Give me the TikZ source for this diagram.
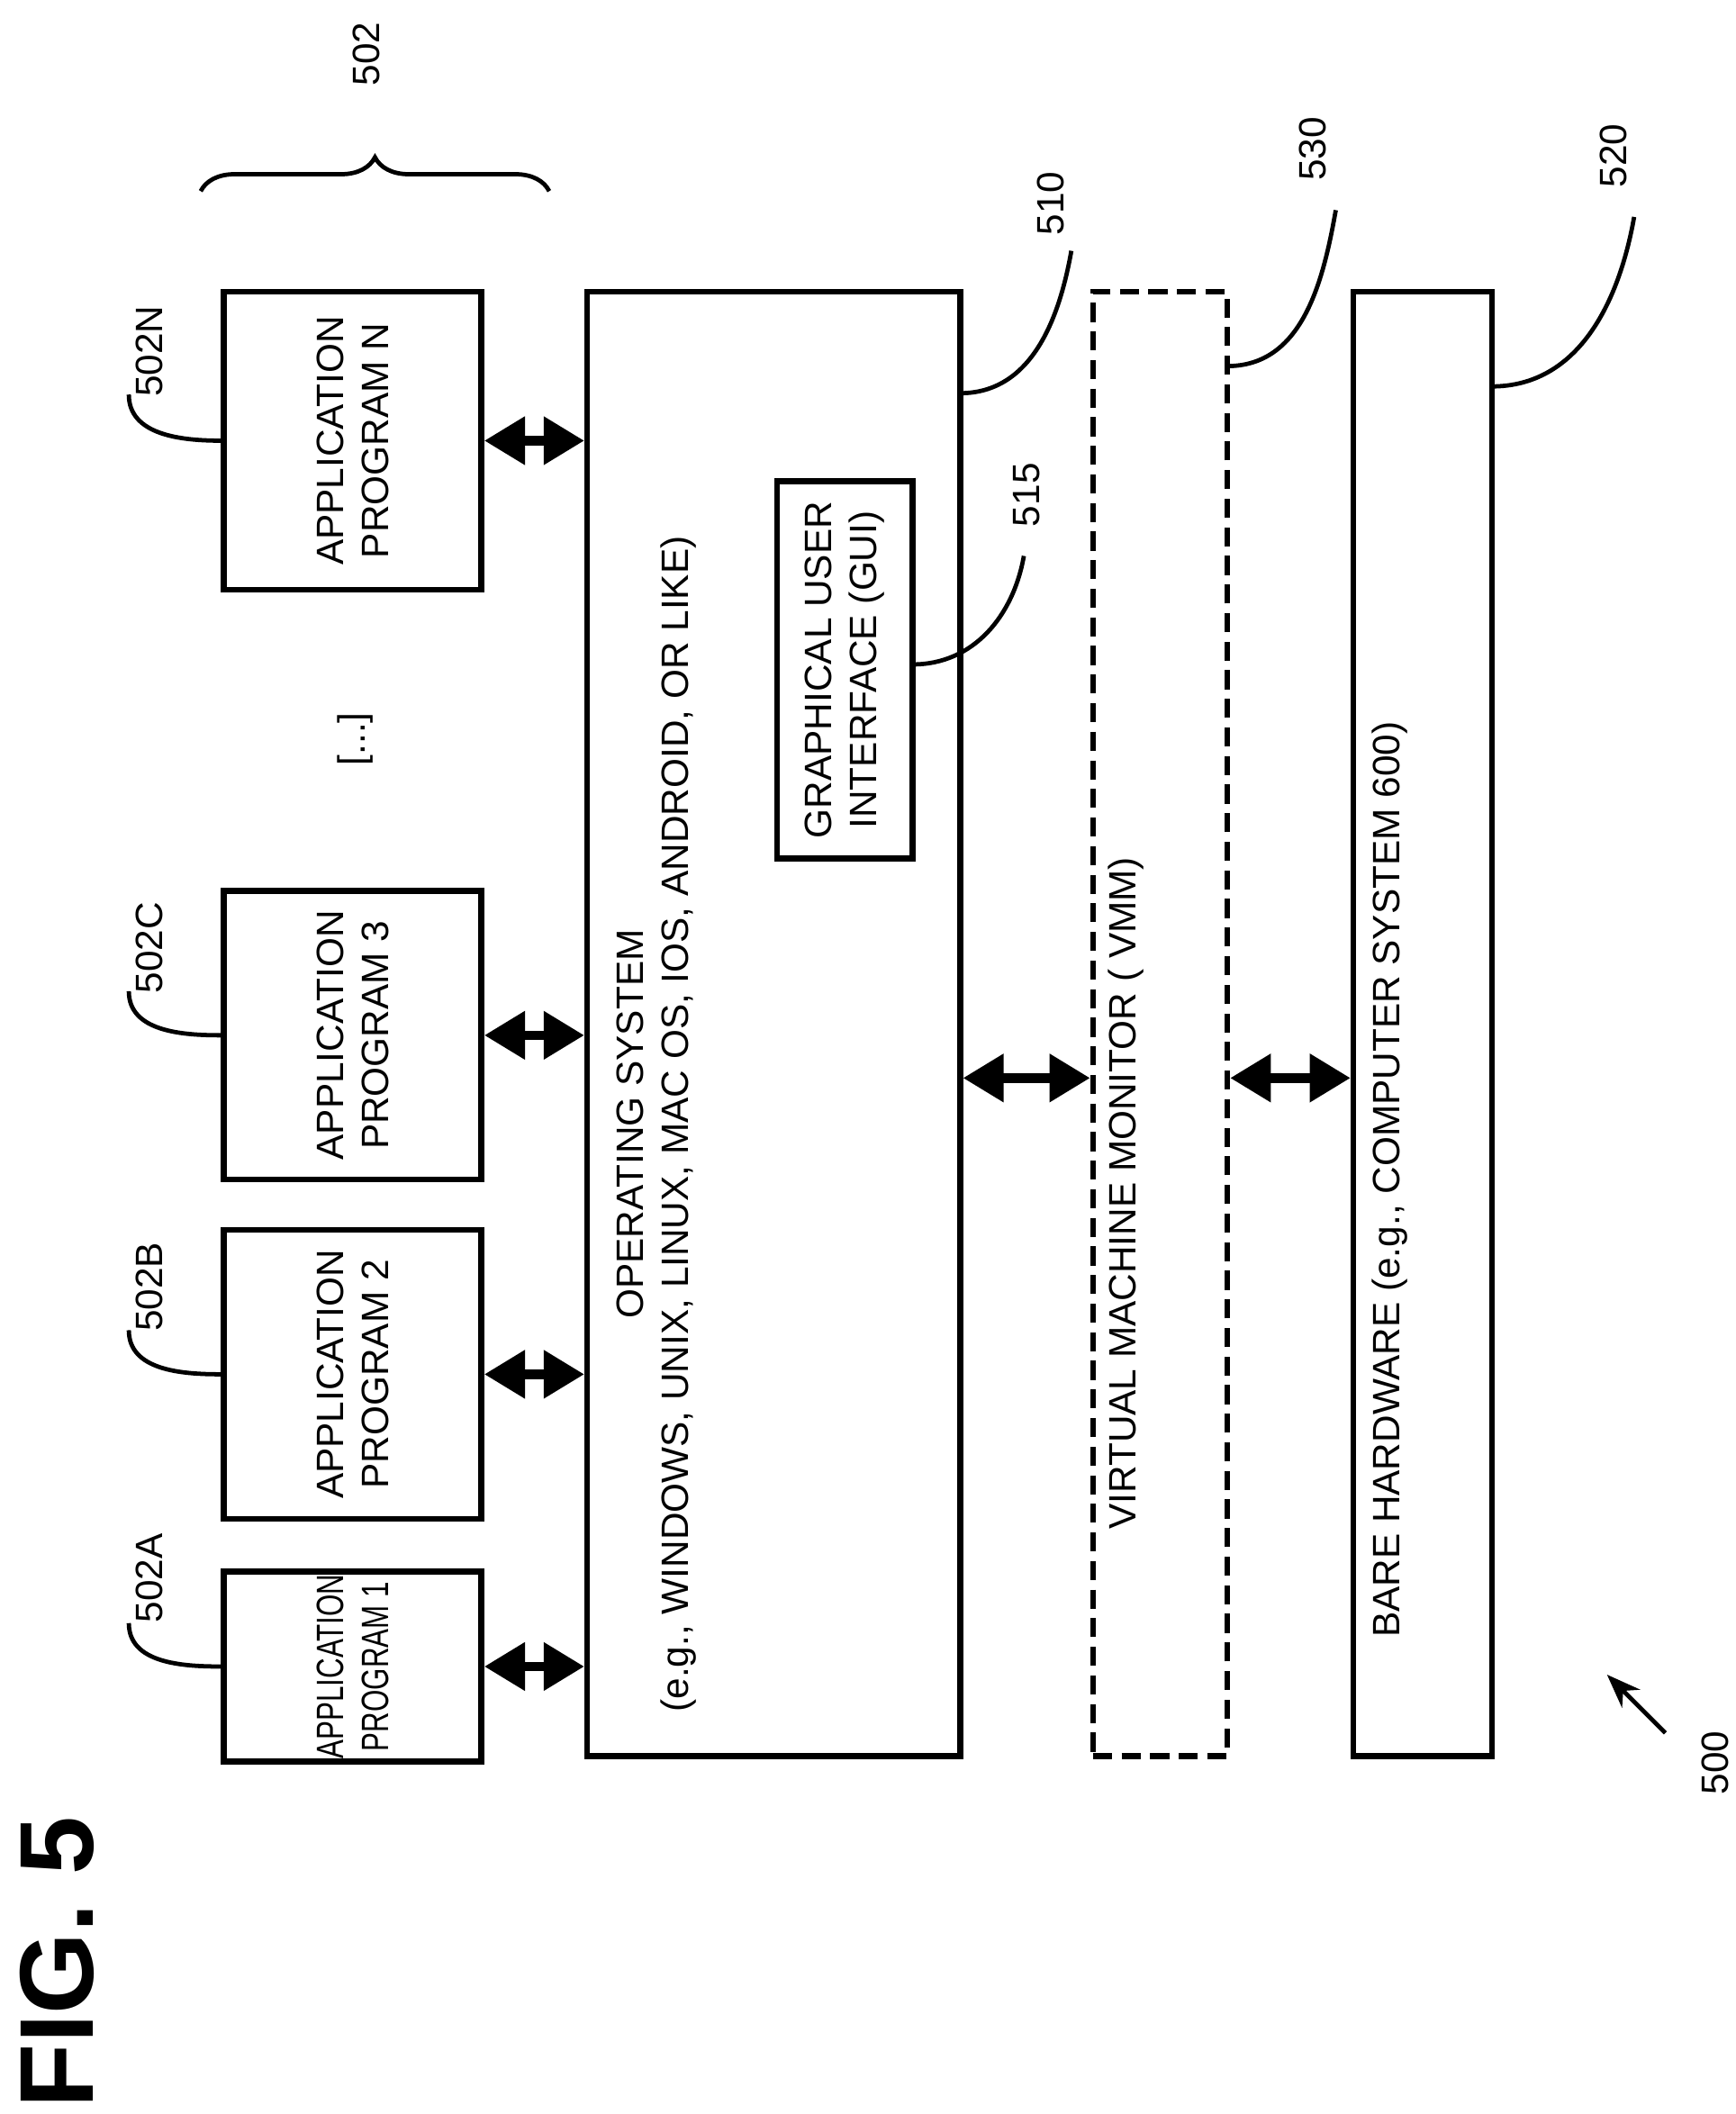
\documentclass[tikz,border=0pt]{standalone}
\usepackage{fontspec}
\setmainfont{Liberation Sans}
\newfontfamily\narrowfont{Liberation Sans}[FakeStretch=0.74]
\usetikzlibrary{arrows.meta,decorations.pathreplacing}
\begin{document}
\begin{tikzpicture}[line width=1.2pt, font=\fontsize{8}{9.5}\selectfont,
  box/.style={draw, rectangle, inner sep=0pt},
  txt/.style={rotate=90, align=center},
  dbl/.style={{Triangle[length=3mm,width=3.4mm]}-{Triangle[length=3mm,width=3.4mm]}, line width=2pt},
  lead/.style={line width=0.9pt}]
\useasboundingbox (0,0) rectangle (12.80,15.59);
% application programs
\node[box, minimum width=1.90cm, minimum height=1.40cm] (app1) at (2.60,3.30) {};
\node[txt, font=\narrowfont\fontsize{8}{9.5}\selectfont] at (app1) {APPLICATION\\PROGRAM 1};
\node[box, minimum width=1.90cm, minimum height=2.13cm] (app2) at (2.60,5.455) {};
\node[txt] at (app2) {APPLICATION\\PROGRAM 2};
\node[box, minimum width=1.90cm, minimum height=2.13cm] (app3) at (2.60,7.955) {};
\node[txt] at (app3) {APPLICATION\\PROGRAM 3};
\node[box, minimum width=1.90cm, minimum height=2.20cm] (appn) at (2.60,12.34) {};
\node[txt] at (appn) {APPLICATION\\PROGRAM N};
\node[rotate=90] (dots) at (2.62,10.14) {[...]};
% layers
\node[box, minimum width=2.75cm, minimum height=10.80cm] (os) at (5.705,8.04) {};
\node[txt] at (4.84,7.30) {OPERATING SYSTEM\\(e.g., WINDOWS, UNIX, LINUX, MAC OS, IOS, ANDROID, OR LIKE)};
\node[box, minimum width=1.00cm, minimum height=2.78cm] (gui) at (6.23,10.65) {};
\node[txt] at (gui) {GRAPHICAL USER\\INTERFACE (GUI)};
\node[box, dashed, dash pattern=on 4pt off 2pt, minimum width=0.99cm, minimum height=10.80cm] (vmm) at (8.555,8.04) {};
\node[txt] at (8.30,6.79) {VIRTUAL MACHINE MONITOR ( VMM)};
\node[box, minimum width=1.02cm, minimum height=10.80cm] (hw) at (10.49,8.04) {};
\node[txt] at (10.25,6.89) {BARE HARDWARE (e.g., COMPUTER SYSTEM 600)};
% arrows
\draw[dbl] (app1.east) -- (app1.east -| os.west);
\draw[dbl] (app2.east) -- (app2.east -| os.west);
\draw[dbl] (app3.east) -- (app3.east -| os.west);
\draw[dbl] (appn.east) -- (appn.east -| os.west);
\draw[dbl] ([yshift=-0.40cm]os.east) -- ([yshift=-0.40cm]vmm.west);
\draw[dbl] ([yshift=-0.40cm]vmm.east) -- ([yshift=-0.40cm]hw.west);
% reference labels
\node[rotate=90] (l502a) at (1.10,3.95) {502A};
\draw[lead] (0.95,3.62) to[out=-90,in=180] (app1.west);
\node[rotate=90] (l502b) at (1.10,6.10) {502B};
\draw[lead] (0.95,5.78) to[out=-90,in=180] (app2.west);
\node[rotate=90] (l502c) at (1.10,8.60) {502C};
\draw[lead] (0.95,8.28) to[out=-90,in=180] (app3.west);
\node[rotate=90] (l502n) at (1.10,13.00) {502N};
\draw[lead] (0.95,12.68) to[out=-90,in=180] (appn.west);
\node[rotate=90] (l502) at (2.70,15.19) {502};
\draw[lead, decorate, decoration={brace, amplitude=0.25cm}] (1.48,14.18) -- (4.05,14.18);
\node[rotate=90] (l510) at (7.75,14.09) {510};
\draw[lead] (7.08,12.69) to[out=0,in=-100] (7.90,13.74);
\node[rotate=90] (l530) at (9.68,14.49) {530};
\draw[lead] (9.05,12.89) to[out=0,in=-100] (9.85,14.04);
\node[rotate=90] (l520) at (11.90,14.44) {520};
\draw[lead] (11.00,12.74) to[out=0,in=-100] (12.05,13.99);
\node[rotate=90] (l515) at (7.57,11.94) {515};
\draw[lead] (6.73,10.69) to[out=0,in=-100] (7.55,11.49);
\node[rotate=90] (l500) at (12.65,2.59) {500};
\draw[lead, -{Stealth[length=2.5mm]}] (12.28,2.81) -- (11.85,3.24);
\node[rotate=90, font=\fontsize{22}{24}\selectfont\bfseries] (fig) at (0.42,1.12) {FIG. 5};
\end{tikzpicture}
\end{document}
